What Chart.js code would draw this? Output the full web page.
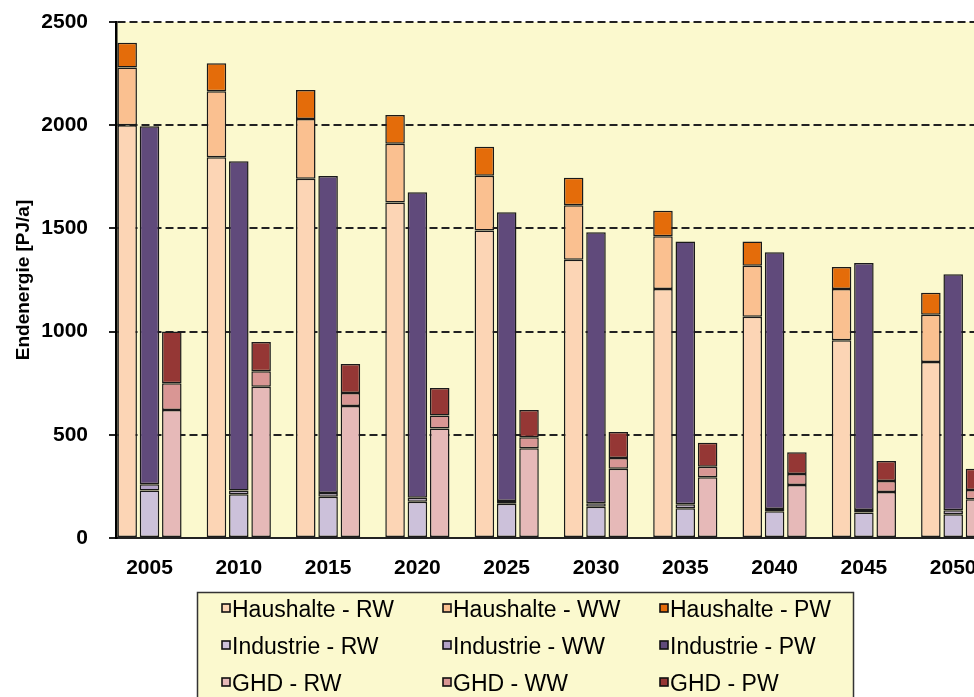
<!DOCTYPE html>
<html>
<head>
<meta charset="utf-8">
<script src="https://cdn.jsdelivr.net/npm/chart.js@4"></script>
<style>
  body { margin: 0; background: #fff; overflow: hidden; }
  #wrap { width: 974px; height: 697px; overflow: hidden; }
</style>
</head>
<body>
<div id="wrap"><canvas id="energychart" width="1010" height="697"></canvas></div>
<script>
const years = [2005, 2010, 2015, 2020, 2025, 2030, 2035, 2040, 2045, 2050];

// Haushalte
const hausRW = [2000, 1845, 1740, 1625, 1490, 1348, 1206, 1072, 958, 853];
const hausWW = [280, 320, 290, 285, 265, 264, 256, 247, 248, 229];
const hausPW = [120, 135, 140, 140, 140, 134, 124, 117, 107, 106];
// Industrie
const indRW = [230, 212, 200, 176, 166, 152, 144, 130, 124, 115];
const indWW = [30, 18, 18, 19, 13, 16, 19, 10, 12, 19];
const indPW = [1735, 1595, 1536, 1480, 1399, 1313, 1273, 1244, 1196, 1144];
// GHD
const ghdRW = [620, 733, 640, 530, 435, 336, 294, 257, 223, 188];
const ghdWW = [130, 75, 63, 63, 53, 52, 51, 53, 53, 45];
const ghdPW = [250, 142, 140, 134, 132, 126, 117, 105, 97, 103];

const yTicks = [0, 500, 1000, 1500, 2000, 2500];

const plotBg = "#FBF9CE";

// every year gets 4 slots: Haushalte, Industrie, GHD, gap
function slots(values, pos) {
  const out = [];
  values.forEach(v => {
    for (let k = 0; k < 4; k++) out.push(k === pos ? v : null);
  });
  return out;
}

const labels = years.flatMap(y => ["", String(y), "", ""]);

function series(label, values, pos, color) {
  return {
    label: label,
    data: slots(values, pos),
    backgroundColor: color,
    borderColor: "#1a1a1a",
    borderWidth: 1.5,
    borderSkipped: false,
    barPercentage: 0.875,
    categoryPercentage: 1.0
  };
}

const bgPlugin = {
  id: "plotBg",
  beforeDraw(chart) {
    const a = chart.chartArea;
    chart.ctx.save();
    chart.ctx.fillStyle = plotBg;
    chart.ctx.fillRect(a.left, a.top, a.right - a.left, a.bottom - a.top);
    chart.ctx.restore();
  }
};

const legendPlugin = {
  id: "legendBox",
  afterDraw(chart) {
    const ctx = chart.ctx;
    const cols = [222, 443, 660];
    const rows = [610, 647, 684];
    ctx.save();
    ctx.fillStyle = plotBg;
    ctx.fillRect(197, 592, 656, 130);
    ctx.strokeStyle = "#333";
    ctx.lineWidth = 1.5;
    ctx.strokeRect(197.5, 592.5, 656, 130);
    ctx.font = '23px "Liberation Sans", Arial, sans-serif';
    ctx.textBaseline = "middle";
    chart.data.datasets.forEach((ds, i) => {
      const x = cols[i % 3];
      const y = rows[Math.floor(i / 3)];
      ctx.fillStyle = ds.backgroundColor;
      ctx.fillRect(x, y - 6, 8, 8);
      ctx.strokeStyle = "#111";
      ctx.lineWidth = 1.6;
      ctx.strokeRect(x, y - 6, 8, 8);
      ctx.fillStyle = "#000";
      ctx.fillText(ds.label, x + 10, y + 1);
    });
    ctx.restore();
  }
};

new Chart("energychart", {
  type: "bar",
  data: {
    labels: labels,
    datasets: [
      series("Haushalte - RW", hausRW, 0, "#FCD5B5"),
      series("Haushalte - WW", hausWW, 0, "#FAC090"),
      series("Haushalte - PW", hausPW, 0, "#E46C0A"),
      series("Industrie - RW", indRW, 1, "#CCC1DA"),
      series("Industrie - WW", indWW, 1, "#B3A2C7"),
      series("Industrie - PW", indPW, 1, "#604A7B"),
      series("GHD - RW", ghdRW, 2, "#E6B9B8"),
      series("GHD - WW", ghdWW, 2, "#D99694"),
      series("GHD - PW", ghdPW, 2, "#953735")
    ]
  },
  options: {
    responsive: false,
    animation: false,
    devicePixelRatio: 1,
    layout: { padding: { top: 22, left: 0, right: 1, bottom: 0 } },
    plugins: {
      legend: { display: false },
      tooltip: { enabled: false }
    },
    scales: {
      x: {
        stacked: true,
        grid: { display: false, drawTicks: false },
        border: { display: true, color: "#222", width: 2 },
        ticks: {
          autoSkip: false,
          maxRotation: 0,
          padding: 18,
          color: "#000",
          font: { family: '"Liberation Sans", Arial, sans-serif', size: 21, weight: "bold" }
        },
        afterFit(scale) {
          scale.height = 159;
          scale.paddingLeft = 0;
          scale.paddingRight = 0;
        }
      },
      y: {
        stacked: true,
        min: 0,
        max: 2500,
        afterBuildTicks(scale) { scale.ticks = yTicks.map(v => ({ value: v })); },
        grid: {
          color: "#222",
          lineWidth: 2,
          drawTicks: true,
          tickLength: 7,
          tickBorderDash: [],
          tickColor: "#222",
          tickWidth: 2
        },
        border: { display: true, color: "#000", width: 2.5, dash: [8, 4] },
        ticks: {
          padding: 21,
          color: "#000",
          callback: v => String(v),
          font: { family: '"Liberation Sans", Arial, sans-serif', size: 21, weight: "bold" }
        },
        title: {
          display: true,
          text: "Endenergie [PJ/a]",
          color: "#000",
          padding: { top: 12, bottom: 0 },
          font: { family: '"Liberation Sans", Arial, sans-serif', size: 19, weight: "bold" }
        },
        afterFit(scale) {
          scale.width = 116;
          scale.paddingTop = 0;
          scale.paddingBottom = 0;
        }
      }
    }
  },
  plugins: [bgPlugin, legendPlugin]
});
</script>
</body>
</html>
